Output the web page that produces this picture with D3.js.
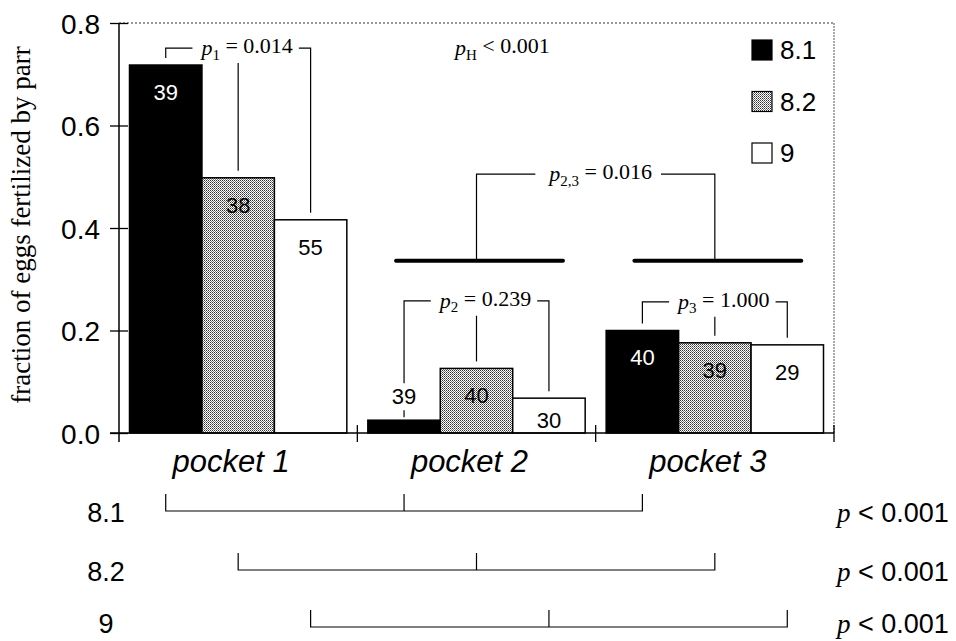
<!DOCTYPE html>
<html><head><meta charset="utf-8">
<script src="https://cdn.jsdelivr.net/npm/d3@7"></script>
<style>body{margin:0;background:#fff}svg{display:block}</style>
</head><body><svg id="c" width="956" height="641"></svg>
<script>
// ---------- data ----------
const pockets = ["pocket 1", "pocket 2", "pocket 3"];
const series = ["8.1", "8.2", "9"];
const values81 = [0.718, 0.025, 0.200];
const values82 = [0.498, 0.126, 0.176];
const values9  = [0.416, 0.068, 0.172];
const counts81 = [39, 39, 40];
const counts82 = [38, 40, 39];
const counts9  = [55, 30, 29];
const yTicks = [0.0, 0.2, 0.4, 0.6, 0.8];
const withinSub = ["1", "2", "3"];
const withinP = ["0.014", "0.239", "1.000"];
const withinLevel = [0.751, 0.258, 0.256];
const betweenSub = "2,3";
const betweenP = "0.016";
const betweenLevel = 0.505;
const betweenBarLevel = 0.336;
const overallText = "< 0.001";
const rowP = ["< 0.001", "< 0.001", "< 0.001"];
const yTitle = "fraction of eggs fertilized by parr";

// ---------- setup ----------
const svg = d3.select("#c");
const sans = "'Liberation Sans', Arial, Helvetica, sans-serif";
const serif = "'Liberation Serif', 'Times New Roman', serif";
const valuesBy = {"8.1": values81, "8.2": values82, "9": values9};
const countsBy = {"8.1": counts81, "8.2": counts82, "9": counts9};

const y = d3.scaleLinear().domain([0, 0.8]).range([433, 23]);
const x0 = d3.scaleBand().domain(pockets).range([119, 834]).padding(0);
const x1 = d3.scaleBand().domain(series).range([10.5, x0.bandwidth() - 10.5]).padding(0);
const bw = x1.bandwidth();
const fill = d3.scaleOrdinal().domain(series).range(["#000", "url(#stip)", "#fff"]);
const cx = (gi, s) => x0(pockets[gi]) + x1(s) + bw / 2;

const defs = svg.append("defs");
const pat = defs.append("pattern").attr("id", "stip").attr("width", 2).attr("height", 2)
  .attr("patternUnits", "userSpaceOnUse");
pat.append("rect").attr("width", 2).attr("height", 2).attr("fill", "#fff");
pat.append("rect").attr("width", 1).attr("height", 1).attr("fill", "#333");
pat.append("rect").attr("x", 1).attr("y", 1).attr("width", 1).attr("height", 1).attr("fill", "#777");

// frame (dotted)
svg.append("line").attr("x1", 119).attr("x2", 834).attr("y1", y(0.8)).attr("y2", y(0.8))
  .attr("stroke", "#333").attr("stroke-dasharray", "2,2").attr("stroke-width", 1);
svg.append("line").attr("x1", 834).attr("x2", 834).attr("y1", y(0.8)).attr("y2", y(0))
  .attr("stroke", "#555").attr("stroke-dasharray", "2,1").attr("stroke-width", 1);

// y axis
const yAxis = svg.append("g").attr("transform", "translate(119,0)")
  .call(d3.axisLeft(y).tickValues(yTicks).tickFormat(d3.format(".1f")).tickSize(9).tickPadding(10));
yAxis.select(".domain").remove();
yAxis.selectAll(".tick line").attr("x1", 9).attr("stroke", "#000").attr("stroke-width", 1.3);
yAxis.selectAll(".tick text").attr("font-family", sans).attr("font-size", 28).attr("fill", "#000")
  .attr("dy", "0.36em");
svg.append("line").attr("x1", 119).attr("x2", 119).attr("y1", y(0.8)).attr("y2", y(0) + 9)
  .attr("stroke", "#000").attr("stroke-width", 1.5);

// bars
pockets.forEach((p, gi) => {
  series.forEach(s => {
    const v = valuesBy[s][gi];
    svg.append("rect").attr("x", x0(p) + x1(s)).attr("y", y(v))
      .attr("width", bw).attr("height", y(0) - y(v))
      .attr("fill", fill(s)).attr("stroke", "#000").attr("stroke-width", 1.5);
  });
});

// x axis
svg.append("line").attr("x1", 110).attr("x2", 834).attr("y1", y(0)).attr("y2", y(0))
  .attr("stroke", "#000").attr("stroke-width", 1.5);
pockets.forEach(p => {
  const xb = x0(p) + x0.bandwidth();
  svg.append("line").attr("x1", xb).attr("x2", xb).attr("y1", y(0) - 8).attr("y2", y(0) + 9)
    .attr("stroke", "#000").attr("stroke-width", 1.3);
  svg.append("text").attr("x", x0(p) + x0.bandwidth() / 2 - 7).attr("y", 472)
    .attr("text-anchor", "middle").attr("font-family", sans).attr("font-style", "italic")
    .attr("font-size", 31).text(p);
});

// bar labels and within-pocket brackets
function pText(g, x, yy, sub, rest, anchor) {
  const t = g.append("text").attr("x", x).attr("y", yy).attr("dy", "0.32em")
    .attr("text-anchor", anchor || "middle").attr("font-family", serif).attr("font-size", 22);
  t.append("tspan").attr("font-style", "italic").text("p");
  t.append("tspan").attr("font-size", 15).attr("dy", "0.3em").text(sub);
  t.append("tspan").attr("dy", "-0.3em").text(rest);
  return t;
}
const ln = (d, w) => svg.append("path").attr("d", d).attr("fill", "none")
  .attr("stroke", "#000").attr("stroke-width", w || 1.2);

pockets.forEach((p, gi) => {
  const xs = series.map(s => cx(gi, s));
  const top = y(withinLevel[gi]);
  const dropEnd = [];
  series.forEach((s, si) => {
    const v = valuesBy[s][gi];
    const h = y(0) - y(v);
    let cy, inside = true;
    if (h > 25) cy = Math.min(y(v) + 27, y(0) - 13);
    else { cy = y(v) - 24; inside = false; }
    svg.append("text").attr("x", xs[si]).attr("y", cy).attr("dy", "0.36em")
      .attr("text-anchor", "middle").attr("font-family", sans).attr("font-size", 22)
      .attr("fill", (s === "8.1" && inside) ? "#fff" : "#000").text(countsBy[s][gi]);
    if (inside) dropEnd.push(y(v) - 7);
    else {
      dropEnd.push(cy - 13);
      ln(`M${xs[si]},${cy + 14}V${y(v) - 3}`);
    }
  });
  const t = pText(svg, xs[1] + 9, top, withinSub[gi], " = " + withinP[gi]);
  const bb = t.node().getBBox();
  ln(`M${xs[0]},${dropEnd[0]}V${top}H${bb.x - 7}`);
  ln(`M${bb.x + bb.width + 6},${top}H${xs[2]}V${dropEnd[2]}`);
  ln(`M${xs[1]},${top + 15}V${dropEnd[1]}`);
});

// overall p
pText(svg, 455, y(withinLevel[0]), "H", " " + overallText, "start");

// between pockets 2 and 3
(function () {
  const yb = y(betweenBarLevel), yt = y(betweenLevel);
  const mids = [1, 2].map(gi => {
    ln(`M${cx(gi, "8.1") - 8},${yb}H${cx(gi, "9") + 14}`, 4).attr("stroke-linecap", "round");
    return cx(gi, "8.2");
  });
  const t = pText(svg, (mids[0] + mids[1]) / 2 + 5, yt, betweenSub, " = " + betweenP);
  const bb = t.node().getBBox();
  ln(`M${mids[0]},${yb}V${yt}H${bb.x - 12}`);
  ln(`M${bb.x + bb.width + 9},${yt}H${mids[1]}V${yb}`);
})();

// legend
series.forEach((s, i) => {
  const ly = 40 + i * 51.5;
  svg.append("rect").attr("x", 752).attr("y", ly).attr("width", 20).attr("height", 20)
    .attr("fill", fill(s)).attr("stroke", "#000").attr("stroke-width", 1.2);
  svg.append("text").attr("x", 780).attr("y", ly + 10).attr("dy", "0.36em")
    .attr("font-family", sans).attr("font-size", 26).text(s);
});

// y title
svg.append("text").attr("transform", "translate(21,225) rotate(-90)")
  .attr("text-anchor", "middle").attr("dy", "0.32em")
  .attr("font-family", serif).attr("font-size", 27).text(yTitle);

// bottom comparison rows
const rowBottom = [511, 570, 627];
const rowText = [512, 571, 623];
series.forEach((s, i) => {
  const yb = rowBottom[i], ytop = yb - 17;
  const xs = [0, 1, 2].map(gi => cx(gi, s));
  ln(`M${xs[0]},${ytop}V${yb}H${xs[2]}V${ytop}`);
  ln(`M${xs[1]},${ytop}V${yb}`);
  svg.append("text").attr("x", 106).attr("y", rowText[i]).attr("dy", "0.36em")
    .attr("text-anchor", "middle").attr("font-family", sans).attr("font-size", 27).text(s);
  const t = svg.append("text").attr("x", 837).attr("y", rowText[i]).attr("dy", "0.36em")
    .attr("font-size", 27);
  t.append("tspan").attr("font-family", serif).attr("font-style", "italic").text("p");
  t.append("tspan").attr("font-family", sans).text(" " + rowP[i]);
});
</script>
</body></html>
